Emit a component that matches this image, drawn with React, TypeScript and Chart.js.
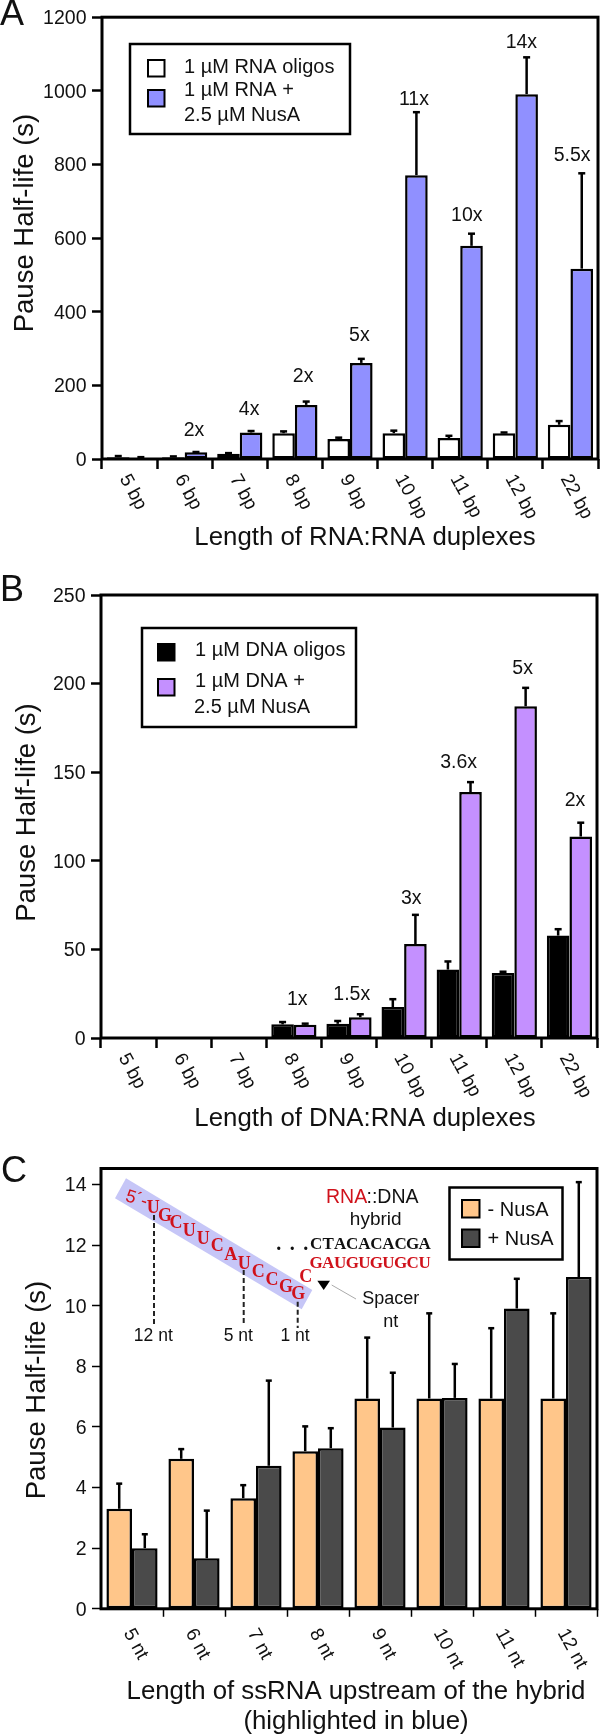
import React, { useEffect, useRef } from "react";
import { Chart, registerables } from "chart.js";

Chart.register(...registerables);

const SANS = '"Liberation Sans", Arial, sans-serif';
const SERIF = '"Liberation Serif", serif';

const bpLabels = ["5 bp", "6 bp", "7 bp", "8 bp", "9 bp", "10 bp", "11 bp", "12 bp", "22 bp"];
const ntLabels = ["5 nt", "6 nt", "7 nt", "8 nt", "9 nt", "10 nt", "11 nt", "12 nt"];

const rnaOligos = [5, 5, 14, 70, 54, 70, 57, 70, 93];
const rnaOligosTop = [8, 7, 16, 75, 58, 77, 63, 72, 103];
const rnaNusA = [3, 18, 72, 147, 261, 771, 579, 991, 517];
const rnaNusATop = [5, 19, 76, 156, 272, 942, 612, 1091, 776];
const rnaFold = ["", "2x", "4x", "2x", "5x", "11x", "10x", "14x", "5.5x"];
const rnaFoldY = [0, 77, 134, 223, 334, 977, 660, 1132, 823];
const rnaFoldX = [0, 1.17, 2.17, 3.15, 4.17, 5.16, 6.12, 7.11, 8.03];

const dnaOligos = [0, 0, 0, 7.7, 8, 17.5, 38.6, 36.7, 57.8];
const dnaOligosTop = [0, 0, 0, 9, 9.6, 21.9, 43.2, 37.4, 61.4];
const dnaNusA = [0, 0, 0, 7.5, 11.7, 53, 138.8, 187.2, 113.7];
const dnaNusATop = [0, 0, 0, 8.1, 13.4, 69.5, 144.4, 197.6, 121.5];
const dnaFold = ["1x", "1.5x", "3x", "3.6x", "5x", "2x"];
const dnaFoldY = [21.5, 24.2, 78.5, 155.5, 208.7, 133.8];
const dnaFoldX = [3.06, 4.05, 5.13, 5.99, 7.15, 8.1];

const minusNusA = [3.3, 4.95, 3.65, 5.2, 6.94, 6.94, 6.94, 6.94];
const minusNusATop = [4.13, 5.27, 4.08, 6.02, 8.95, 9.75, 9.26, 9.75];
const plusNusA = [2.0, 1.67, 4.72, 5.3, 5.98, 6.96, 9.91, 10.95];
const plusNusATop = [2.46, 3.24, 7.53, 5.96, 7.79, 8.08, 10.89, 14.08];

const strandLetters = ["U", "G", "C", "U", "U", "C", "A", "U", "C", "C", "G", "G", "C"];
const strandX = [153.3, 165, 176, 189.3, 203.3, 217.3, 230.7, 244.3, 258.3, 272, 286, 298.3, 305.7];
const strandY = [68.3, 76, 83.3, 91, 99.3, 106.7, 115, 124, 132.3, 140.7, 147.3, 154, 137.3];

function text(ctx, s, x, y, font, color = "#111", align = "center", rot = 0) {
  ctx.save();
  ctx.translate(x, y);
  if (rot) ctx.rotate(rot);
  ctx.font = font;
  ctx.fillStyle = color;
  ctx.textAlign = align;
  ctx.textBaseline = "middle";
  ctx.fillText(s, 0, 0);
  ctx.restore();
}

function spaced(ctx, s, x, y, font, color, adv) {
  s.split("").forEach((c, i) => text(ctx, c, x + adv * (i + 0.5), y, font, color));
}

function drawInset(ctx) {
  ctx.save();
  ctx.fillStyle = "#C6C6F7";
  ctx.beginPath();
  ctx.moveTo(126, 38.3);
  ctx.lineTo(115, 58.3);
  ctx.lineTo(301.7, 169.3);
  ctx.lineTo(312.3, 150);
  ctx.closePath();
  ctx.fill();
  ctx.strokeStyle = "#222";
  ctx.lineWidth = 2;
  ctx.setLineDash([5, 3]);
  [[154, 75, 186.7], [243.7, 130, 183], [297.7, 161.7, 188]].forEach(([x, a, b]) => {
    ctx.beginPath();
    ctx.moveTo(x, a);
    ctx.lineTo(x, b);
    ctx.stroke();
  });
  ctx.setLineDash([]);
  ctx.strokeStyle = "#AAA";
  ctx.lineWidth = 1;
  ctx.beginPath();
  ctx.moveTo(331.7, 145);
  ctx.lineTo(356, 159);
  ctx.stroke();
  ctx.fillStyle = "#000";
  ctx.beginPath();
  ctx.moveTo(317.3, 140.7);
  ctx.lineTo(330, 140.7);
  ctx.lineTo(323.7, 150);
  ctx.closePath();
  ctx.fill();
  ctx.restore();

  const red = "#D0121B";
  text(ctx, "5´-", 126, 56, `18px ${SANS}`, red, "left", 0.3);
  strandLetters.forEach((l, i) => text(ctx, l, strandX[i], strandY[i], `bold 18px ${SERIF}`, red));
  text(ctx, "RNA", 326, 57.3, `19.5px ${SANS}`, red, "left");
  text(ctx, "::DNA", 366.5, 57.3, `19.5px ${SANS}`, "#111", "left");
  text(ctx, "hybrid", 375.7, 80, `19px ${SANS}`);
  spaced(ctx, "...", 272, 104.5, `bold 20px ${SERIF}`, "#111", 13.5);
  spaced(ctx, "CTACACACGA", 310, 104.3, `bold 17px ${SERIF}`, "#111", 12.07);
  spaced(ctx, "GAUGUGUGCU", 310, 123.3, `bold 17px ${SERIF}`, red, 12.07);
  text(ctx, "Spacer", 390.7, 159, `18px ${SANS}`);
  text(ctx, "nt", 390.7, 181.7, `18px ${SANS}`);
  text(ctx, "12 nt", 153.3, 195.7, `17.5px ${SANS}`);
  text(ctx, "5 nt", 238.3, 195.7, `17.5px ${SANS}`);
  text(ctx, "1 nt", 295, 195.7, `17.5px ${SANS}`);
}

const panelPlugin = (p) => ({
  id: "panel",
  beforeDatasetsDraw(chart) {
    if (p.inset) p.inset(chart.ctx);
  },
  afterDatasetsDraw(chart) {
    const ctx = chart.ctx;
    const xS = chart.scales.x;
    const yS = chart.scales.y;
    ctx.save();
    ctx.strokeStyle = "#000";
    chart.data.datasets.forEach((ds, di) => {
      chart.getDatasetMeta(di).data.forEach((bar, i) => {
        const top = ds.errorTop[i];
        if (!top) return;
        const yTop = yS.getPixelForValue(top);
        const yBar = yS.getPixelForValue(ds.data[i]);
        ctx.lineWidth = p.errWidth;
        ctx.beginPath();
        ctx.moveTo(bar.x, yBar);
        ctx.lineTo(bar.x, yTop);
        ctx.stroke();
        ctx.beginPath();
        ctx.moveTo(bar.x - p.cap, yTop);
        ctx.lineTo(bar.x + p.cap, yTop);
        ctx.stroke();
      });
    });
    ctx.restore();

    (p.fold || []).forEach((f, i) => {
      if (f) text(ctx, f, xS.getPixelForValue(p.foldX[i]), yS.getPixelForValue(p.foldY[i]), `19.5px ${SANS}`);
    });

    // frame
    const a = chart.chartArea;
    ctx.save();
    ctx.strokeStyle = "#000";
    ctx.lineWidth = p.frame;
    ctx.strokeRect(a.left, a.top, a.right - a.left, a.bottom - a.top);
    ctx.restore();

    // rotated category labels
    chart.data.labels.forEach((l, i) => {
      text(ctx, l, xS.getPixelForValue(i) + p.labelDx, a.bottom + p.labelDy, `19px ${SANS}`, "#111", "left", (61 * Math.PI) / 180);
    });

    // legend
    const g = p.legend;
    ctx.save();
    ctx.fillStyle = "#fff";
    ctx.strokeStyle = "#000";
    ctx.lineWidth = 2.5;
    ctx.fillRect(g.box[0], g.box[1], g.box[2], g.box[3]);
    ctx.strokeRect(g.box[0], g.box[1], g.box[2], g.box[3]);
    ctx.lineWidth = 2;
    g.swatches.forEach((s, i) => {
      ctx.fillStyle = chart.data.datasets[i].backgroundColor;
      ctx.fillRect(s[0], s[1], s[2], s[2]);
      ctx.strokeRect(s[0], s[1], s[2], s[2]);
    });
    ctx.restore();
    g.lines.forEach((ln) => text(ctx, ln[0], ln[1], ln[2], `20px ${SANS}`, "#111", "left"));

    // titles
    text(ctx, p.yTitle[0], p.yTitle[1], p.yTitle[2], `27.5px ${SANS}`, "#111", "center", -Math.PI / 2);
    p.xTitle.forEach((t) => text(ctx, t[0], t[1], t[2], `25.8px ${SANS}`));
    text(ctx, p.letter[0], p.letter[1], p.letter[2], `36px ${SANS}`, "#111", "left");
  },
});

function makeChart(canvas, p) {
  return new Chart(canvas, {
    type: "bar",
    data: {
      labels: p.labels,
      datasets: p.series.map((s) => ({
        label: s.label,
        data: s.data,
        errorTop: s.top,
        backgroundColor: s.color,
        borderColor: "#000",
        borderWidth: p.barBorder,
        borderSkipped: false,
        barPercentage: 1,
        categoryPercentage: p.barPct,
      })),
    },
    options: {
      animation: false,
      responsive: false,
      maintainAspectRatio: false,
      layout: { padding: { top: p.area.top, right: 600 - p.area.right, left: 0, bottom: 0 } },
      plugins: { legend: { display: false }, tooltip: { enabled: false } },
      scales: {
        x: {
          type: "category",
          ticks: { display: false },
          border: { display: false },
          grid: {
            offset: true,
            drawOnChartArea: false,
            tickLength: p.tickLen,
            tickWidth: p.tickWidth,
            tickColor: (c) => (p.noEndTicks && (c.index === 0 || c.index === p.labels.length) ? "rgba(0,0,0,0)" : "#000"),
          },
          afterFit: (s) => { s.height = p.height - p.area.bottom; },
        },
        y: {
          min: 0,
          max: p.yMax,
          ticks: {
            stepSize: p.step,
            includeBounds: false,
            autoSkip: false,
            font: { family: "Liberation Sans", size: 19.5 },
            color: "#111",
            padding: 5.5,
            labelOffset: 1.5,
            callback: (v) => String(v),
          },
          border: { display: false },
          grid: { drawOnChartArea: false, tickLength: p.yTickLen, tickWidth: p.tickWidth, tickColor: "#000" },
          afterFit: (s) => { s.width = p.area.left; },
        },
      },
    },
    plugins: [panelPlugin(p)],
  });
}

const panelA = {
  height: 560,
  area: { left: 102, right: 598, top: 16, bottom: 459 },
  labels: bpLabels,
  series: [
    { label: "1 µM RNA oligos", data: rnaOligos, top: rnaOligosTop, color: "#FFFFFF" },
    { label: "1 µM RNA + 2.5 µM NusA", data: rnaNusA, top: rnaNusATop, color: "#9090FF" },
  ],
  yMax: 1200, step: 200, barPct: 0.82, barBorder: 2.5, tickLen: 10, yTickLen: 10, tickWidth: 2.5, frame: 3, errWidth: 2.5, cap: 3.5,
  fold: rnaFold, foldX: rnaFoldX, foldY: rnaFoldY,
  labelDx: -5.7, labelDy: 17,
  legend: {
    box: [130, 44, 220, 90],
    swatches: [[148, 60, 16.5], [148, 90, 16.5]],
    lines: [["1 µM RNA oligos", 184, 67], ["1 µM RNA +", 184, 90.5], ["2.5 µM NusA", 184, 115]],
  },
  yTitle: ["Pause Half-life (s)", 25, 223],
  xTitle: [["Length of RNA:RNA duplexes", 365, 537.5]],
  letter: ["A", 0, 15.5],
};

const panelB = {
  height: 580,
  area: { left: 101, right: 597, top: 35, bottom: 478 },
  labels: bpLabels,
  series: [
    { label: "1 µM DNA oligos", data: dnaOligos, top: dnaOligosTop, color: "#000000" },
    { label: "1 µM DNA + 2.5 µM NusA", data: dnaNusA, top: dnaNusATop, color: "#C490FF" },
  ],
  yMax: 250, step: 50, barPct: 0.82, barBorder: 2.5, tickLen: 10, yTickLen: 10, tickWidth: 2.5, frame: 3, errWidth: 2.5, cap: 3.5,
  fold: dnaFold, foldX: dnaFoldX, foldY: dnaFoldY,
  labelDx: -5.7, labelDy: 17,
  legend: {
    box: [142, 68, 214, 99],
    swatches: [[158, 84, 16.5], [158, 119, 16.5]],
    lines: [["1 µM DNA oligos", 195, 90.5], ["1 µM DNA +", 195, 121.5], ["2.5 µM NusA", 194, 147]],
  },
  yTitle: ["Pause Half-life (s)", 27, 252.5],
  xTitle: [["Length of DNA:RNA duplexes", 365, 558.6]],
  letter: ["B", 0, 31],
};

const panelC = {
  height: 596,
  area: { left: 101, right: 597, top: 28.5, bottom: 468.8 },
  labels: ntLabels,
  series: [
    { label: "- NusA", data: minusNusA, top: minusNusATop, color: "#FFC68A" },
    { label: "+ NusA", data: plusNusA, top: plusNusATop, color: "#4A4A4A" },
  ],
  yMax: 14.53, step: 2, barPct: 0.825, barBorder: 2.5, tickLen: 8, yTickLen: 9, tickWidth: 1.5, frame: 3, errWidth: 2.5, cap: 3, noEndTicks: true,
  labelDx: -4.2, labelDy: 21.5,
  legend: {
    box: [449.5, 47.5, 113, 72],
    swatches: [[462, 60, 17.5], [462, 89.5, 17.5]],
    lines: [["- NusA", 487.5, 70], ["+ NusA", 487.5, 99.5]],
  },
  yTitle: ["Pause Half-life (s)", 37, 250],
  xTitle: [["Length of ssRNA upstream of the hybrid", 356, 551.5], ["(highlighted in blue)", 356, 581.7]],
  letter: ["C", 1, 32],
  inset: drawInset,
};

function Panel({ p, top }) {
  const ref = useRef(null);
  useEffect(() => {
    const c = makeChart(ref.current, p);
    return () => c.destroy();
  }, [p]);
  return (
    <canvas
      ref={ref}
      width={600}
      height={p.height}
      style={{ position: "absolute", left: 0, top, width: 600, height: p.height, display: "block" }}
    />
  );
}

export default function App() {
  return (
    <div style={{ position: "absolute", left: 0, top: 0, width: 600, height: 1736, background: "#fff", overflow: "hidden" }}>
      <Panel p={panelA} top={0} />
      <Panel p={panelB} top={560} />
      <Panel p={panelC} top={1140} />
    </div>
  );
}
